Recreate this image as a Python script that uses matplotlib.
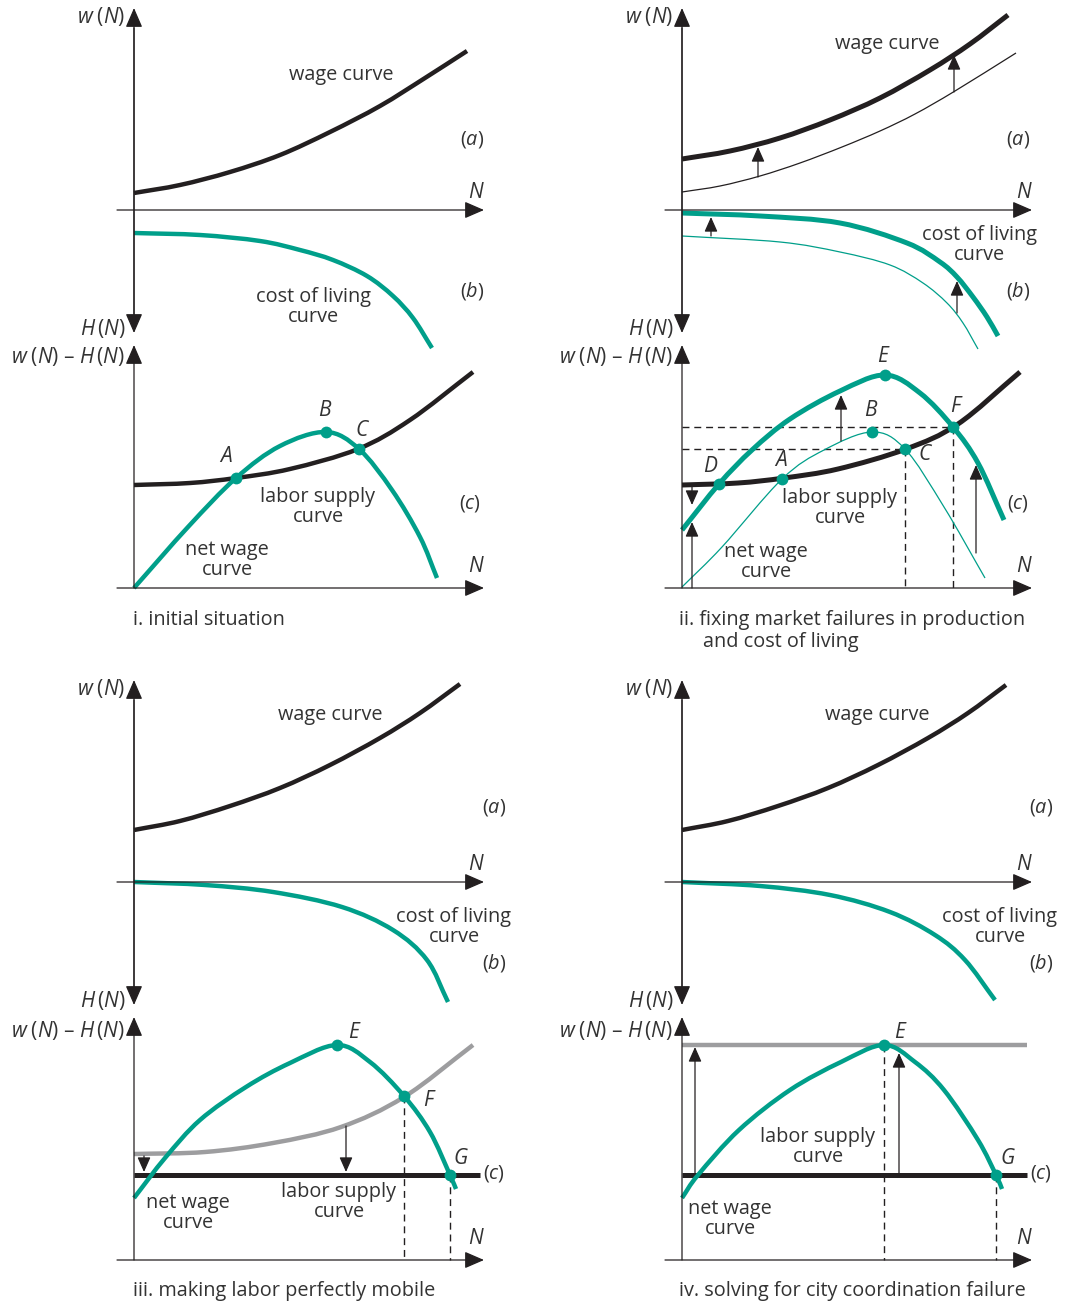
import matplotlib
matplotlib.use("Agg")
import matplotlib.pyplot as plt
import numpy as np
from matplotlib.path import Path
from matplotlib.patches import PathPatch

plt.rcParams['font.family'] = ['Open Sans', 'DejaVu Sans']
plt.rcParams['mathtext.fontset'] = 'custom'
plt.rcParams['mathtext.rm'] = 'Open Sans'
plt.rcParams['mathtext.it'] = 'Open Sans:italic'

TEAL = '#009f8a'
BLACK = '#231f20'
GRAY = '#9d9d9f'
TXT = '#333333'

# ---------------- data (pixel units of the page) ----------------
# panel i
wage_i = [(134, 193), (180, 185), (230, 172), (280, 155), (330, 132), (380, 106), (425, 78), (467, 51)]
col_i = [(134, 233), (200, 235), (260, 241), (300, 250), (333, 260), (367, 276), (393, 296),
         (413, 318), (432, 348)]
labor_i = [(134, 485), (190, 483), (236, 478), (290, 469), (358, 449), (410, 420), (473, 372)]
net_i = [(134, 588), (188, 527), (236, 478), (280, 446), (326, 432), (359, 449), (392, 490),
         (420, 537), (437, 578)]
pts_i = {'A': (236, 478), 'B': (326, 432), 'C': (359, 449)}

# panel ii
wage_new_ii = [(682, 159), (730, 151), (780, 138), (830, 120), (880, 98), (930, 70), (970, 44), (1008, 15)]
wage_old_ii = [(682, 192), (720, 186), (760, 176), (800, 163), (842, 147), (880, 131), (915, 114),
               (955, 91), (1016, 53)]
col_new_ii = [(682, 213), (760, 216), (840, 223), (907, 243), (940, 262), (957, 277), (973, 297),
              (987, 317), (998, 336)]
col_old_ii = [(682, 236), (780, 242), (840, 252), (890, 265), (923, 283), (947, 303), (963, 323),
              (978, 349)]
labor_ii = [(682, 485), (738, 483), (784, 478), (838, 469), (906, 449), (958, 424), (1020, 372)]
net_new_ii = [(682, 530), (719, 484), (752, 450), (790, 419), (840, 391), (885, 375), (920, 393),
              (953, 427), (978, 463), (1004, 520)]
net_old_ii = [(682, 587), (722, 547), (782, 479), (824, 450), (872, 432), (905, 449), (944, 507),
              (985, 578)]
pts_ii = {'D': (719, 484), 'A': (782, 479), 'B': (872, 432), 'C': (905, 449), 'E': (885, 375), 'F': (953, 427)}

# panel iii
wage_iii = [(134, 830), (180, 821), (230, 806), (280, 788), (330, 765), (380, 738), (420, 713), (460, 684)]
col_iii = [(134, 882), (205, 885), (273, 892), (342, 907), (393, 930), (427, 960), (448, 1002)]
gray_iii = [(134, 1154), (205, 1152), (273, 1143), (341, 1127), (404, 1097), (473, 1045)]
flat_iii = [(134, 1175), (480, 1175)]
net_iii = [(134, 1198), (165, 1158), (200, 1120), (246, 1087), (290, 1063), (337, 1045), (370, 1062),
           (404, 1096), (430, 1132), (450, 1175), (456, 1189)]
pts_iii = {'E': (337, 1045), 'F': (404, 1096), 'G': (450, 1175)}

# panel iv
wage_iv = [(682, 830), (728, 821), (778, 806), (828, 788), (878, 765), (928, 738), (968, 713), (1006, 685)]
col_iv = [(682, 882), (760, 886), (830, 895), (890, 912), (935, 935), (965, 960), (995, 1000)]
gray_iv = [(682, 1045), (1027, 1045)]
flat_iv = [(682, 1175), (1027, 1175)]
net_iv = [(682, 1198), (698, 1175), (739, 1130), (790, 1090), (841, 1062), (884, 1045), (915, 1062),
          (944, 1090), (978, 1140), (996, 1175), (1002, 1189)]
pts_iv = {'E': (884, 1045), 'G': (996, 1175)}

# ---------------- figure ----------------
fig = plt.figure(figsize=(10.68, 13.05), dpi=100)
ax = fig.add_axes([0, 0, 1, 1])
ax.set_xlim(0, 1068)
ax.set_ylim(1305, 0)
ax.axis('off')

FS = 14.3


def smooth(pts, color, lw, z=3):
    p = np.array(pts, float)
    if len(p) == 2:
        ax.plot(p[:, 0], p[:, 1], color=color, lw=lw, solid_capstyle='butt', zorder=z)
        return
    ext = np.vstack([2 * p[0] - p[1], p, 2 * p[-1] - p[-2]])
    verts = [p[0]]
    codes = [Path.MOVETO]
    for i in range(1, len(ext) - 2):
        p0, p1, p2, p3 = ext[i - 1], ext[i], ext[i + 1], ext[i + 2]
        c1 = p1 + (p2 - p0) / 6.0
        c2 = p2 - (p3 - p1) / 6.0
        verts += [c1, c2, p2]
        codes += [Path.CURVE4] * 3
    ax.add_patch(PathPatch(Path(verts, codes), fill=False, ec=color, lw=lw,
                           capstyle='butt', joinstyle='round', zorder=z))


def arrow(tail, tip, big=False, lw=0.9):
    style = ('-|>,head_length=0.6,head_width=0.26' if big
             else '-|>,head_length=0.45,head_width=0.2')
    ax.annotate('', xy=tip, xytext=tail,
                arrowprops=dict(arrowstyle=style, lw=lw, color=BLACK,
                                shrinkA=0, shrinkB=0, mutation_scale=20), zorder=6)


def dashed(p, q):
    ax.plot([p[0], q[0]], [p[1], q[1]], color=BLACK, lw=1.0, dashes=(5, 3.5), zorder=2)


def txt(x, y, s, ha='center', size=FS, **kw):
    ax.text(x, y, s, ha=ha, va='center', fontsize=size, color=TXT, linespacing=1.0, **kw)


def dots(d):
    for k, (x, y) in d.items():
        ax.plot([x], [y], 'o', ms=8.5, color=TEAL, mec='none', zorder=7)


def frame(ox, y_top, y_mid, y_hdown, y_ctop, y_bot, rows):
    arrow((ox, y_hdown - 11), (ox, y_top), big=True)
    arrow((ox, y_top + 20), (ox, y_hdown), big=True)
    arrow((ox - 17, y_mid), (ox + 350, y_mid), big=True)
    arrow((ox, y_bot), (ox, y_ctop), big=True)
    arrow((ox - 17, y_bot), (ox + 350, y_bot), big=True)
    lx = ox - 9
    txt(lx, rows[0], r'$w\;(N)$', ha='right', size=15)
    txt(lx, rows[1], r'$H\,(N)$', ha='right', size=15)
    txt(lx, rows[2], r'$w\;(N)$ – $H\,(N)$', ha='right', size=15)
    txt(ox + 342, y_mid - 18, r'$N$', size=15)
    txt(ox + 342, y_bot - 21, r'$N$', size=15)


# panel i
frame(134, 8, 210, 333, 345, 588, (17, 328, 357))
smooth(wage_i, BLACK, 3.2)
smooth(col_i, TEAL, 3.2)
smooth(labor_i, BLACK, 3.2)
smooth(net_i, TEAL, 3.2)
dots(pts_i)
txt(341, 75, 'wage curve')
txt(313, 307, 'cost of living\ncurve')
txt(318, 507, 'labor supply\ncurve')
txt(227, 560, 'net wage\ncurve')
txt(472, 139, r'$(a)$')
txt(472, 291, r'$(b)$')
txt(470, 503, r'$(c)$')
for k, (x, y) in {'A': (226, 456), 'B': (325, 411), 'C': (363, 430)}.items():
    txt(x, y, '$' + k + '$', size=15)
txt(133, 620, 'i. initial situation', ha='left')

# panel ii
frame(682, 8, 210, 333, 345, 588, (17, 328, 357))
smooth(wage_old_ii, BLACK, 0.9)
smooth(wage_new_ii, BLACK, 3.6)
smooth(col_old_ii, TEAL, 0.9)
smooth(col_new_ii, TEAL, 3.6)
arrow((758, 177), (758, 147))
arrow((954, 92), (954, 55))
arrow((711, 236), (711, 217))
arrow((957, 313), (957, 281))
for a, b in [((682, 427), (953, 427)), ((682, 449), (905, 449)),
             ((905, 449), (905, 588)), ((953, 427), (953, 588))]:
    dashed(a, b)
smooth(net_old_ii, TEAL, 0.9)
smooth(labor_ii, BLACK, 3.6)
smooth(net_new_ii, TEAL, 3.6)
arrow((692, 487), (692, 505))
arrow((692, 588), (692, 522))
arrow((841, 441), (841, 395))
arrow((976, 553), (976, 465))
dots(pts_ii)
txt(887, 44, 'wage curve')
txt(979, 245, 'cost of living\ncurve')
txt(840, 508, 'labor supply\ncurve')
txt(766, 562, 'net wage\ncurve')
txt(1018, 139, r'$(a)$')
txt(1018, 291, r'$(b)$')
txt(1018, 503, r'$(c)$')
for k, (x, y) in {'D': (711, 466), 'A': (781, 460), 'B': (871, 411), 'C': (926, 455),
                  'E': (884, 356), 'F': (957, 406)}.items():
    txt(x, y, '$' + k + '$', size=15)
txt(679, 620, 'ii. fixing market failures in production', ha='left')
txt(703, 642, 'and cost of living', ha='left')

# panel iii
frame(134, 680, 882, 1005, 1017, 1260, (689, 1000, 1030))
smooth(wage_iii, BLACK, 3.2)
smooth(col_iii, TEAL, 3.2)
dashed((404, 1096), (404, 1260))
dashed((450, 1175), (450, 1260))
smooth(gray_iii, GRAY, 3.2)
smooth(flat_iii, BLACK, 3.6)
smooth(net_iii, TEAL, 3.2)
arrow((144, 1156), (144, 1172))
arrow((346, 1126), (346, 1172))
dots(pts_iii)
txt(330, 715, 'wage curve')
txt(454, 927, 'cost of living\ncurve')
txt(339, 1202, 'labor supply\ncurve')
txt(188, 1213, 'net wage\ncurve')
txt(494, 808, r'$(a)$')
txt(494, 963, r'$(b)$')
txt(494, 1174, r'$(c)$')
for k, (x, y) in {'E': (355, 1033), 'F': (430, 1101), 'G': (461, 1159)}.items():
    txt(x, y, '$' + k + '$', size=15)
txt(133, 1291, 'iii. making labor perfectly mobile', ha='left')

# panel iv
frame(682, 680, 882, 1005, 1017, 1260, (689, 1000, 1030))
smooth(wage_iv, BLACK, 3.2)
smooth(col_iv, TEAL, 3.2)
dashed((884, 1045), (884, 1260))
dashed((996, 1175), (996, 1260))
smooth(gray_iv, GRAY, 3.2)
smooth(flat_iv, BLACK, 3.6)
smooth(net_iv, TEAL, 3.2)
arrow((695, 1174), (695, 1047))
arrow((899, 1174), (899, 1053))
dots(pts_iv)
txt(877, 715, 'wage curve')
txt(1000, 927, 'cost of living\ncurve')
txt(818, 1147, 'labor supply\ncurve')
txt(730, 1219, 'net wage\ncurve')
txt(1041, 808, r'$(a)$')
txt(1041, 963, r'$(b)$')
txt(1041, 1174, r'$(c)$')
for k, (x, y) in {'E': (901, 1033), 'G': (1008, 1159)}.items():
    txt(x, y, '$' + k + '$', size=15)
txt(679, 1291, 'iv. solving for city coordination failure', ha='left')

fig.savefig('out.png', dpi=100, facecolor='white')
